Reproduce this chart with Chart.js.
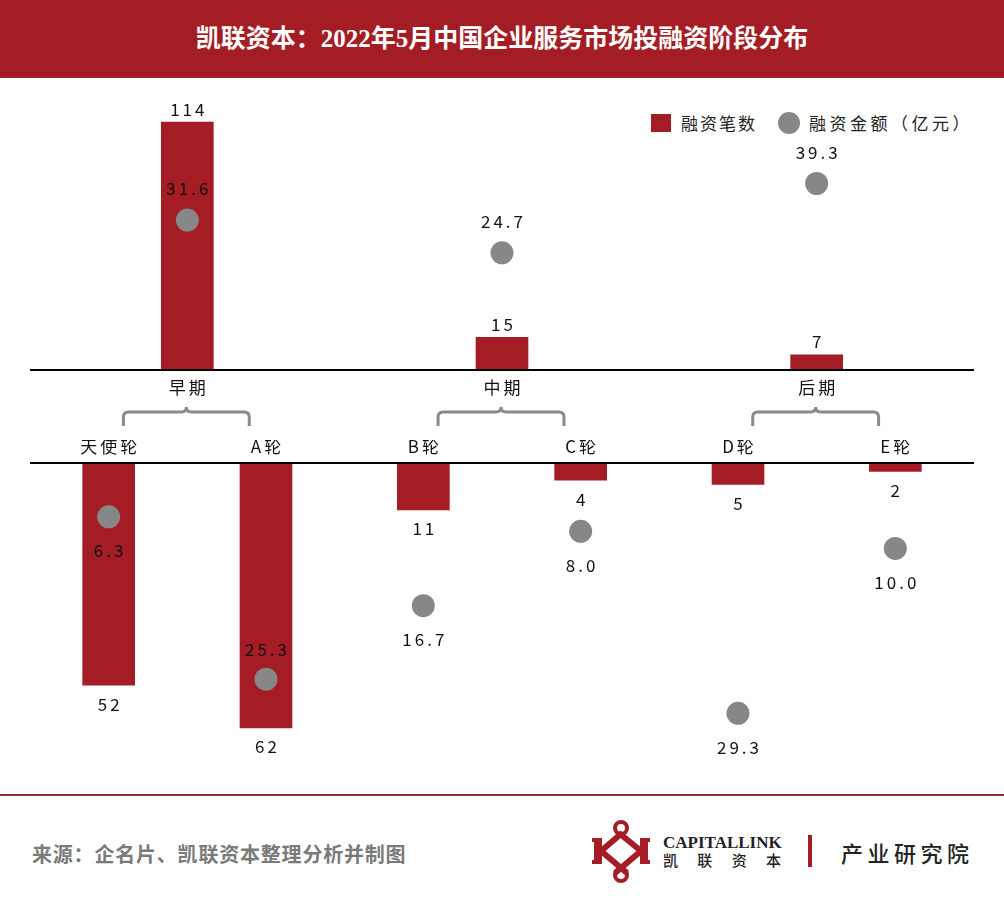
<!DOCTYPE html>
<html>
<head>
<meta charset="utf-8">
<script src="https://cdn.jsdelivr.net/npm/chart.js@4.4.0/dist/chart.umd.min.js"></script>
<style>
  html, body { margin: 0; padding: 0; background: #fff; }
  body {
    width: 1004px; height: 901px; position: relative; overflow: hidden;
    font-family: "Noto Sans CJK SC", sans-serif; color: #222;
  }
  .abs { position: absolute; }
  .header {
    left: 0; top: 0; width: 1004px; height: 78px; background: #A41C24;
    color: #fff; font: bold 25px "Liberation Serif", "Noto Sans CJK SC", serif;
    line-height: 78px; text-align: center;
  }
  .legend-text { font-size: 17px; line-height: 22px; letter-spacing: 2px; white-space: nowrap; }
  .footer-line { left: 0; top: 794px; width: 1004px; height: 2px; background: #8f2a30; }
  .source {
    left: 32px; top: 841px; line-height: 26px; font-size: 20px; font-weight: bold;
    color: #7a7a7a; letter-spacing: 0.8px; white-space: nowrap;
  }
  .brand-en { left: 663px; top: 832px; font: bold 17px "Liberation Serif", serif; line-height: 22px; color: #222; }
  .brand-cn {
    left: 663px; top: 850px; width: 118px; height: 20px; display: flex; justify-content: space-between;
    font-size: 15px; font-weight: 500; line-height: 20px; color: #222;
  }
  .sep { left: 808px; top: 835px; width: 4px; height: 32px; background: #A41C24; }
  .institute { left: 841px; top: 837px; font-size: 22px; font-weight: 500; line-height: 30px; letter-spacing: 4.5px; color: #222; white-space: nowrap; }
</style>
</head>
<body>
<div class="abs header">凯联资本：2022年5月中国企业服务市场投融资阶段分布</div>

<div class="abs" style="left:651px;top:114px;width:20px;height:18px;background:#A41C24;"></div>
<div class="abs legend-text" style="left:681px;top:112px;">融资笔数</div>
<div class="abs" style="left:778px;top:112px;width:22px;height:22px;border-radius:50%;background:#878787;"></div>
<div class="abs legend-text" style="left:809px;top:112px;letter-spacing:3.5px;">融资金额（亿元）</div>

<canvas id="stageChart" class="abs" style="left:0;top:80px;" width="1004" height="360"></canvas>
<canvas id="roundChart" class="abs" style="left:0;top:440px;" width="1004" height="350"></canvas>

<div class="abs footer-line"></div>
<div class="abs source">来源：企名片、凯联资本整理分析并制图</div>

<svg class="abs" style="left:590px;top:818px;" width="64" height="68" viewBox="0 0 64 68">
  <g fill="none" stroke="#A41C24" stroke-width="6">
    <line x1="11" y1="33" x2="32" y2="15" />
    <line x1="11" y1="33" x2="37" y2="55" />
    <line x1="51" y1="33" x2="29" y2="15" />
    <line x1="51" y1="33" x2="25" y2="55" />
  </g>
  <g fill="none" stroke="#A41C24" stroke-width="4">
    <circle cx="31" cy="10" r="6" />
    <circle cx="31" cy="57" r="6" />
  </g>
  <rect x="4" y="20" width="8" height="26" fill="#A41C24" />
  <rect x="50" y="20" width="8" height="26" fill="#A41C24" />
  <rect x="2" y="20" width="6" height="4" fill="#A41C24" />
  <rect x="2" y="42" width="6" height="4" fill="#A41C24" />
  <rect x="54" y="20" width="6" height="4" fill="#A41C24" />
  <rect x="54" y="42" width="6" height="4" fill="#A41C24" />
</svg>
<div class="abs brand-en">CAPITALLINK</div>
<div class="abs brand-cn"><span>凯</span><span>联</span><span>资</span><span>本</span></div>
<div class="abs sep"></div>
<div class="abs institute">产业研究院</div>

<script>
(() => {
  // upper panel: financing stage
  const stageLabels = ["早期", "中期", "后期"];
  const stageCounts = [114, 15, 7];
  const stageAmounts = [31.6, 24.7, 39.3];

  // lower panel: financing round
  const roundLabels = ["天使轮", "A轮", "B轮", "C轮", "D轮", "E轮"];
  const roundCounts = [52, 62, 11, 4, 5, 2];
  const roundAmounts = [6.3, 25.3, 16.7, 8.0, 29.3, 10.0];
  // which side of the dot the amount label sits on (lower panel)
  const roundAmountSide = ["below", "above", "below", "below", "below", "below"];

  const BAR_RED = "#A41C24";
  const DOT_GREY = "#878787";
  const BRACKET_GREY = "#8a8a8a";
  const LABEL_FONT = '17px "Noto Sans CJK SC", sans-serif';
  const SPACING = 3;

  function drawText(ctx, txt, x, y) {
    // letterSpacing adds a trailing gap, so nudge right by half of it
    ctx.fillText(txt, x + SPACING / 2, y);
  }

  function textSetup(ctx, color) {
    ctx.font = LABEL_FONT;
    ctx.letterSpacing = SPACING + "px";
    ctx.textAlign = "center";
    ctx.textBaseline = "middle";
    ctx.fillStyle = color;
  }

  // labels for bars and dots; upper panel grows up, lower panel grows down
  const valueLabels = {
    id: "valueLabels",
    afterDatasetsDraw(chart, args, opts) {
      const ctx = chart.ctx;
      ctx.save();
      textSetup(ctx, "#111");
      const dotMeta = chart.getDatasetMeta(0);
      const barMeta = chart.getDatasetMeta(1);
      const amounts = chart.data.datasets[0].data;
      const counts = chart.data.datasets[1].data;

      barMeta.data.forEach((bar, i) => {
        const y = opts.down ? bar.y + 19 : bar.y - 13;
        drawText(ctx, String(counts[i]), bar.x, y);
      });
      dotMeta.data.forEach((pt, i) => {
        let y;
        if (opts.down) {
          y = opts.sides[i] === "above" ? pt.y - 30 : pt.y + 34;
        } else {
          y = pt.y - 31;
        }
        drawText(ctx, amounts[i].toFixed(1), pt.x, y);
      });
      ctx.restore();
    },
  };

  // baseline, category labels and (upper panel only) brackets
  const axisDecor = {
    id: "axisDecor",
    afterDraw(chart, args, opts) {
      const ctx = chart.ctx;
      const xs = chart.scales.x;
      const base = chart.scales.y.getPixelForValue(0);
      const area = chart.chartArea;
      ctx.save();

      ctx.strokeStyle = "#000";
      ctx.lineWidth = 2;
      ctx.beginPath();
      ctx.moveTo(area.left, base);
      ctx.lineTo(area.right, base);
      ctx.stroke();

      textSetup(ctx, "#111");
      chart.data.labels.forEach((lab, i) => {
        const x = xs.getPixelForValue(i);
        drawText(ctx, lab, x, opts.down ? base - 16 : base + 18);
      });

      if (opts.brackets) {
        const half = (xs.width / chart.data.labels.length) * 0.2;
        const yTop = base + 42;
        const yEnd = base + 56;
        const r = 5;
        ctx.strokeStyle = BRACKET_GREY;
        ctx.lineWidth = 3;
        chart.data.labels.forEach((_, i) => {
          const cx = xs.getPixelForValue(i) - 1;
          ctx.beginPath();
          ctx.moveTo(cx - half, yEnd);
          ctx.lineTo(cx - half, yTop + r);
          ctx.quadraticCurveTo(cx - half, yTop, cx - half + r, yTop);
          ctx.lineTo(cx - r, yTop);
          ctx.quadraticCurveTo(cx, yTop, cx, yTop - r);
          ctx.quadraticCurveTo(cx, yTop, cx + r, yTop);
          ctx.lineTo(cx + half - r, yTop);
          ctx.quadraticCurveTo(cx + half, yTop, cx + half, yTop + r);
          ctx.lineTo(cx + half, yEnd);
          ctx.stroke();
        });
      }
      ctx.restore();
    },
  };

  function buildChart(canvasId, cfg) {
    const ctx = document.getElementById(canvasId).getContext("2d");
    return new Chart(ctx, {
      type: "bar",
      data: {
        labels: cfg.labels,
        datasets: [
          {
            type: "line",
            label: "融资金额（亿元）",
            data: cfg.amounts,
            yAxisID: "y2",
            showLine: false,
            pointRadius: 11.5,
            pointHoverRadius: 11.5,
            pointBackgroundColor: DOT_GREY,
            pointBorderWidth: 0,
            borderWidth: 0,
            clip: false,
            order: 1,
          },
          {
            label: "融资笔数",
            data: cfg.counts,
            yAxisID: "y",
            backgroundColor: BAR_RED,
            borderWidth: 0,
            barThickness: 52,
            order: 2,
          },
        ],
      },
      options: {
        responsive: false,
        animation: false,
        layout: { padding: cfg.padding },
        plugins: {
          legend: { display: false },
          tooltip: { enabled: false },
          valueLabels: { down: cfg.down, sides: cfg.sides },
          axisDecor: { down: cfg.down, brackets: cfg.brackets },
        },
        scales: {
          x: { display: false, offset: true },
          y: { display: false, min: 0, max: cfg.countMax, reverse: cfg.down },
          y2: { display: false, min: 0, max: cfg.amountMax, reverse: cfg.down, position: "right" },
        },
      },
      plugins: [valueLabels, axisDecor],
    });
  }

  buildChart("stageChart", {
    labels: stageLabels,
    counts: stageCounts,
    amounts: stageAmounts,
    countMax: 120,
    amountMax: 55,
    down: false,
    brackets: true,
    padding: { top: 29, bottom: 70, left: 30, right: 30 },
  });

  buildChart("roundChart", {
    labels: roundLabels,
    counts: roundCounts,
    amounts: roundAmounts,
    sides: roundAmountSide,
    countMax: 70,
    amountMax: 35,
    down: true,
    brackets: false,
    padding: { top: 23, bottom: 28, left: 30, right: 30 },
  });
})();
</script>
</body>
</html>
